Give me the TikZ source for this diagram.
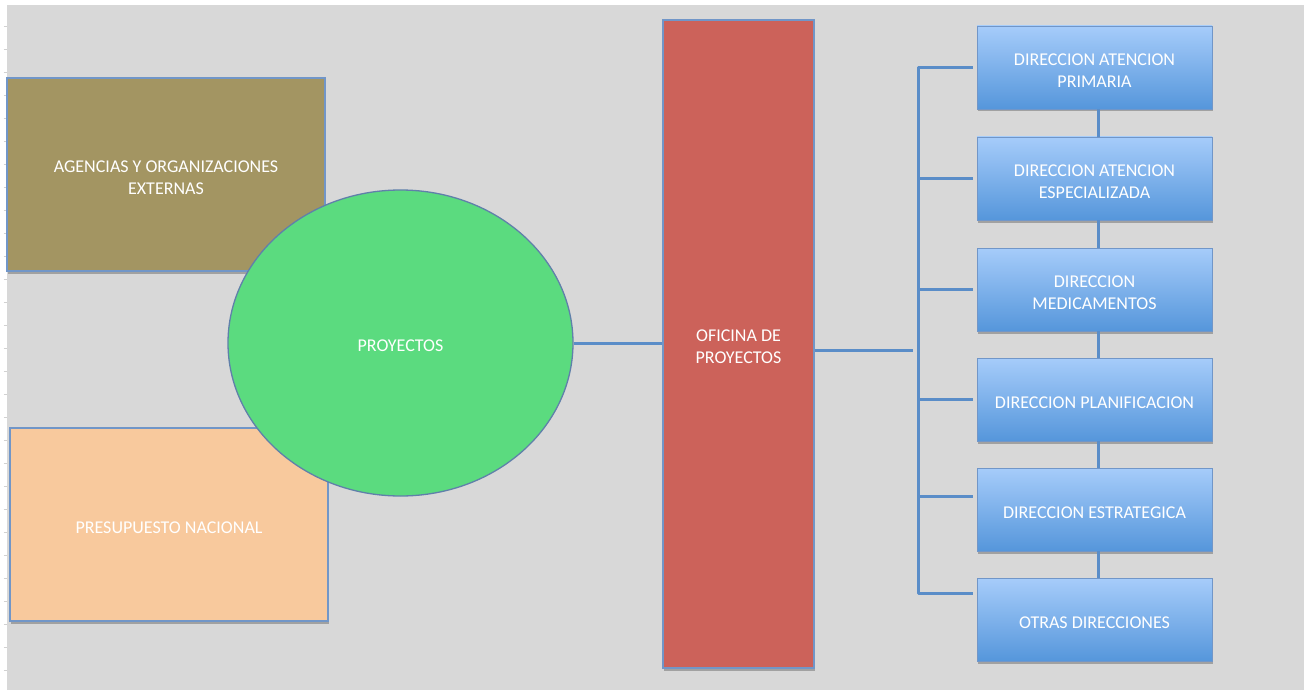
\documentclass[tikz,border=0pt]{standalone}
\usepackage{fontspec}
\setmainfont{Carlito}
\usetikzlibrary{shapes.geometric,shadows}

\definecolor{canvas}{HTML}{D8D8D8}
\definecolor{edgeblue}{HTML}{7196C8}
\definecolor{linkblue}{HTML}{5A8DC8}
\definecolor{agencyfill}{HTML}{A39562}
\definecolor{budgetfill}{HTML}{F8C99D}
\definecolor{projfill}{HTML}{5BDB7F}
\definecolor{officefill}{HTML}{CC625A}
\definecolor{deptop}{HTML}{A6CCFA}
\definecolor{depbottom}{HTML}{5596DB}

\tikzset{
  label text/.style={text=white, align=center, font=\fontsize{18}{22}\selectfont, inner sep=0pt, yshift=-3pt},
  caption/.style={label={[label text]center:{#1}}},
  softshadow/.style={drop shadow={shadow xshift=1pt, shadow yshift=-2.5pt, opacity=0.25, fill=black}},
  plainbox/.style={rectangle, draw=edgeblue, line width=1.3pt, inner sep=0pt, softshadow},
  projshape/.style={ellipse, draw=edgeblue!85!black, line width=1.3pt, fill=projfill, inner sep=0pt},
  deptbox/.style={rectangle, draw=edgeblue, line width=0.8pt, top color=deptop, bottom color=depbottom,
    minimum width=235pt, minimum height=83pt, inner sep=0pt, softshadow},
  link/.style={draw=linkblue, line width=3pt},
}

\begin{document}
\begin{tikzpicture}[x=1pt, y=-1pt]
  \useasboundingbox (0,0) rectangle (1304,690);
  % sheet and ruler strip
  \fill[white] (0,0) rectangle (1304,690);
  \fill[canvas] (7,5) rectangle (1304,690);
  \foreach \t in {26,49,...,670} \draw[black!18, line width=0.7pt] (3.5,\t) -- (7,\t);

  % left side: sources and projects
  \node[plainbox, fill=agencyfill, minimum width=318pt, minimum height=193pt,
        caption={AGENCIAS Y ORGANIZACIONES\\EXTERNAS}] (agencias) at (166,174.5) {};
  \node[plainbox, fill=budgetfill, minimum width=318pt, minimum height=193pt,
        caption={PRESUPUESTO NACIONAL}] (presupuesto) at (169,524.5) {};
  \node[projshape, minimum width=345pt, minimum height=306pt,
        caption={PROYECTOS}] (proyectos) at (400.5,343) {};

  % project office
  \node[plainbox, fill=officefill, minimum width=151pt, minimum height=648pt,
        caption={OFICINA DE\\PROYECTOS}] (oficina) at (738.5,344) {};

  % departments
  \node[deptbox, caption={DIRECCION ATENCION\\PRIMARIA}]      (d1) at (1094.5,67.5)  {};
  \node[deptbox, caption={DIRECCION ATENCION\\ESPECIALIZADA}] (d2) at (1094.5,178.5) {};
  \node[deptbox, caption={DIRECCION\\MEDICAMENTOS}]           (d3) at (1094.5,289.5) {};
  \node[deptbox, caption={DIRECCION PLANIFICACION}]           (d4) at (1094.5,399.5) {};
  \node[deptbox, caption={DIRECCION ESTRATEGICA}]             (d5) at (1094.5,509.5) {};
  \node[deptbox, caption={OTRAS DIRECCIONES}]                 (d6) at (1094.5,620)   {};

  % connectors
  \draw[link] (proyectos.east) -- (oficina.west |- proyectos.east);
  \coordinate (hubend) at (913,350);
  \draw[link] (oficina.east |- hubend) -- (hubend);

  \coordinate (b1) at (918.5,68);
  \coordinate (b2) at (918.5,178);
  \coordinate (b3) at (918.5,289);
  \coordinate (b4) at (918.5,399);
  \coordinate (b5) at (918.5,496);
  \coordinate (b6) at (918.5,593);
  \draw[link, line join=round] ([xshift=-4pt]b1 -| d1.west) -- (b1) -- (b6) -- ([xshift=-4pt]b6 -| d6.west);
  \foreach \i in {2,3,4,5} \draw[link] (b\i) -- ([xshift=-4pt]b\i -| d\i.west);

  \foreach \a/\b in {d1/d2,d2/d3,d3/d4,d4/d5,d5/d6}
    \draw[link] ([xshift=3.5pt]\a.south) -- ([xshift=3.5pt]\b.north);
\end{tikzpicture}
\end{document}
